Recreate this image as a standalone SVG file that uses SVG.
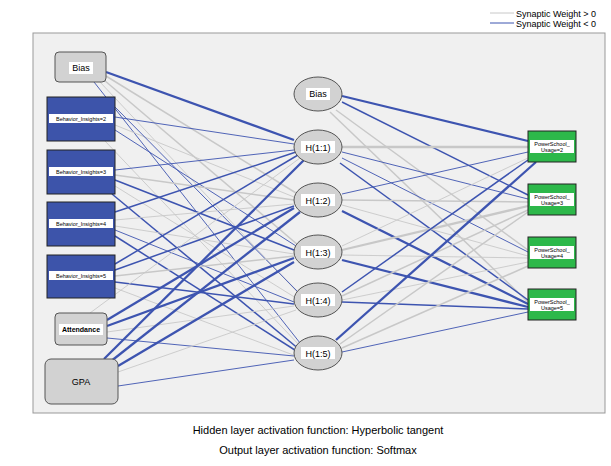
<svg xmlns="http://www.w3.org/2000/svg" width="611" height="466" viewBox="0 0 611 466">
<style>
text{font-family:"Liberation Sans",Arial,sans-serif;fill:#000}
.p{stroke:#c8c8c8;fill:none}
.n{stroke:#3d54b0;fill:none}
.t1{stroke-width:0.9}.t2{stroke-width:1.5}.t3{stroke-width:2.3}
.g{fill:#d2d2d2;stroke:#555;stroke-width:1}
.b{fill:#3d54aa;stroke:#222;stroke-width:1}
.o{fill:#2db84a;stroke:#222;stroke-width:1}
.lb{fill:#fff}
</style>
<rect width="611" height="466" fill="#fff"/>
<rect x="33" y="33" width="572" height="380" fill="#f0f0f0" stroke="#999"/>
<g id="legend">
<line x1="490" y1="13" x2="514" y2="13" stroke="#c8c8c8"/>
<line x1="490" y1="23" x2="514" y2="23" stroke="#3d54b0"/>
<text x="516" y="17" font-size="9">Synaptic Weight &gt; 0</text>
<text x="516" y="27" font-size="9">Synaptic Weight &lt; 0</text>
</g>
<g id="connectors">
<line class="n t3" x1="106" y1="72" x2="294" y2="140"/>
<line class="p t2" x1="106" y1="76" x2="296" y2="193"/>
<line class="p t2" x1="104" y1="80" x2="298" y2="245"/>
<line class="p t1" x1="100" y1="82" x2="300" y2="295"/>
<line class="n t1" x1="94" y1="82" x2="304" y2="348"/>
<line class="n t1" x1="115" y1="117" x2="294" y2="144"/>
<line class="p t1" x1="115" y1="125" x2="294" y2="197"/>
<line class="n t1" x1="115" y1="130" x2="296" y2="246"/>
<line class="n t1" x1="115" y1="107" x2="300" y2="294"/>
<line class="p t1" x1="105" y1="141" x2="302" y2="348"/>
<line class="n t1" x1="115" y1="170" x2="294" y2="150"/>
<line class="p t2" x1="115" y1="175" x2="294" y2="200"/>
<line class="n t2" x1="115" y1="180" x2="294" y2="250"/>
<line class="p t1" x1="115" y1="186" x2="296" y2="298"/>
<line class="n t2" x1="112" y1="194" x2="300" y2="350"/>
<line class="n t2" x1="115" y1="212" x2="296" y2="152"/>
<line class="p t1" x1="115" y1="220" x2="294" y2="204"/>
<line class="p t1" x1="115" y1="226" x2="294" y2="254"/>
<line class="n t1" x1="115" y1="230" x2="294" y2="302"/>
<line class="n t2" x1="115" y1="236" x2="298" y2="352"/>
<line class="n t2" x1="115" y1="264" x2="298" y2="155"/>
<line class="n t2" x1="115" y1="270" x2="294" y2="206"/>
<line class="p t2" x1="115" y1="276" x2="294" y2="256"/>
<line class="n t2" x1="115" y1="282" x2="294" y2="304"/>
<line class="p t1" x1="115" y1="288" x2="296" y2="356"/>
<line class="p t1" x1="90" y1="313" x2="300" y2="158"/>
<line class="n t3" x1="107" y1="320" x2="294" y2="208"/>
<line class="n t3" x1="107" y1="326" x2="294" y2="258"/>
<line class="p t1" x1="107" y1="332" x2="294" y2="306"/>
<line class="n t1" x1="107" y1="338" x2="294" y2="356"/>
<line class="n t3" x1="104" y1="359" x2="304" y2="160"/>
<line class="n t3" x1="110" y1="362" x2="300" y2="212"/>
<line class="n t3" x1="118" y1="366" x2="294" y2="262"/>
<line class="p t1" x1="118" y1="372" x2="296" y2="310"/>
<line class="n t1" x1="118" y1="386" x2="294" y2="360"/>
<line class="n t3" x1="342" y1="96" x2="528" y2="141"/>
<line class="n t2" x1="342" y1="102" x2="528" y2="195"/>
<line class="p t2" x1="336" y1="110" x2="528" y2="250"/>
<line class="p t2" x1="330" y1="112" x2="528" y2="302"/>
<line class="p t3" x1="342" y1="147" x2="528" y2="147"/>
<line class="n t1" x1="342" y1="152" x2="528" y2="199"/>
<line class="n t1" x1="342" y1="158" x2="528" y2="252"/>
<line class="n t2" x1="340" y1="163" x2="528" y2="300"/>
<line class="n t1" x1="342" y1="194" x2="528" y2="152"/>
<line class="p t2" x1="342" y1="200" x2="528" y2="202"/>
<line class="p t1" x1="342" y1="205" x2="528" y2="256"/>
<line class="n t3" x1="342" y1="211" x2="528" y2="304"/>
<line class="p t1" x1="342" y1="246" x2="528" y2="158"/>
<line class="p t3" x1="342" y1="250" x2="528" y2="206"/>
<line class="p t1" x1="342" y1="255" x2="528" y2="258"/>
<line class="n t3" x1="342" y1="260" x2="528" y2="307"/>
<line class="n t2" x1="342" y1="292" x2="528" y2="160"/>
<line class="p t2" x1="342" y1="296" x2="528" y2="210"/>
<line class="p t1" x1="342" y1="300" x2="528" y2="262"/>
<line class="n t2" x1="342" y1="302" x2="528" y2="309"/>
<line class="n t3" x1="336" y1="340" x2="536" y2="162"/>
<line class="p t2" x1="340" y1="344" x2="528" y2="212"/>
<line class="p t2" x1="342" y1="348" x2="528" y2="266"/>
<line class="n t1" x1="342" y1="352" x2="528" y2="312"/>
</g>
<g id="in-bias"><rect class="g" x="55" y="52" width="51" height="30" rx="4"/><rect class="lb" x="69" y="62" width="24" height="12"/><text x="81" y="71" font-size="9" text-anchor="middle">Bias</text></g>
<g id="bi2"><rect class="b" x="47" y="97" width="68" height="44"/><rect class="lb" x="49" y="114" width="64" height="9"/><text x="81" y="121" font-size="5.5" text-anchor="middle">Behavior_Insights=2</text></g>
<g id="bi3"><rect class="b" x="47" y="150" width="68" height="44"/><rect class="lb" x="49" y="167" width="64" height="9"/><text x="81" y="174" font-size="5.5" text-anchor="middle">Behavior_Insights=3</text></g>
<g id="bi4"><rect class="b" x="47" y="202" width="68" height="44"/><rect class="lb" x="49" y="219" width="64" height="9"/><text x="81" y="226" font-size="5.5" text-anchor="middle">Behavior_Insights=4</text></g>
<g id="bi5"><rect class="b" x="47" y="255" width="68" height="43"/><rect class="lb" x="49" y="271" width="64" height="9"/><text x="81" y="278" font-size="5.5" text-anchor="middle">Behavior_Insights=5</text></g>
<g id="attendance"><rect class="g" x="55" y="313" width="52" height="32" rx="4"/><rect class="lb" x="59" y="324" width="44" height="11"/><text x="81" y="332" font-size="7" font-weight="bold" text-anchor="middle">Attendance</text></g>
<g id="gpa"><rect class="g" x="45" y="359" width="73" height="45" rx="6"/><text x="81" y="385" font-size="9" text-anchor="middle">GPA</text></g>
<g id="h-bias"><ellipse class="g" cx="318" cy="94" rx="24" ry="17"/><rect class="lb" x="306" y="88" width="24" height="12"/><text x="318" y="97" font-size="9" text-anchor="middle">Bias</text></g>
<g id="h1"><ellipse class="g" cx="318" cy="147" rx="24" ry="17"/><rect class="lb" x="301" y="141" width="34" height="12"/><text x="318" y="150.5" font-size="9" text-anchor="middle">H(1:1)</text></g>
<g id="h2"><ellipse class="g" cx="318" cy="200" rx="24" ry="17"/><rect class="lb" x="301" y="194" width="34" height="12"/><text x="318" y="203.5" font-size="9" text-anchor="middle">H(1:2)</text></g>
<g id="h3"><ellipse class="g" cx="318" cy="252" rx="24" ry="17"/><rect class="lb" x="301" y="246" width="34" height="12"/><text x="318" y="255.5" font-size="9" text-anchor="middle">H(1:3)</text></g>
<g id="h4"><ellipse class="g" cx="318" cy="300" rx="24" ry="17"/><rect class="lb" x="301" y="294" width="34" height="12"/><text x="318" y="303.5" font-size="9" text-anchor="middle">H(1:4)</text></g>
<g id="h5"><ellipse class="g" cx="318" cy="353" rx="24" ry="17"/><rect class="lb" x="301" y="347" width="34" height="12"/><text x="318" y="356.5" font-size="9" text-anchor="middle">H(1:5)</text></g>
<g id="o2"><rect class="o" x="528" y="131" width="48" height="31"/><rect class="lb" x="530" y="140" width="44" height="13"/><text x="552" y="146" font-size="5.5" text-anchor="middle">PowerSchool_</text><text x="552" y="152" font-size="5.5" text-anchor="middle">Usage=2</text></g>
<g id="o3"><rect class="o" x="528" y="184" width="48" height="31"/><rect class="lb" x="530" y="193" width="44" height="13"/><text x="552" y="199" font-size="5.5" text-anchor="middle">PowerSchool_</text><text x="552" y="205" font-size="5.5" text-anchor="middle">Usage=3</text></g>
<g id="o4"><rect class="o" x="528" y="237" width="48" height="31"/><rect class="lb" x="530" y="246" width="44" height="13"/><text x="552" y="252" font-size="5.5" text-anchor="middle">PowerSchool_</text><text x="552" y="258" font-size="5.5" text-anchor="middle">Usage=4</text></g>
<g id="o5"><rect class="o" x="528" y="289" width="48" height="31"/><rect class="lb" x="530" y="298" width="44" height="13"/><text x="552" y="304" font-size="5.5" text-anchor="middle">PowerSchool_</text><text x="552" y="310" font-size="5.5" text-anchor="middle">Usage=5</text></g>
<text x="318" y="434" font-size="11" text-anchor="middle">Hidden layer activation function: Hyperbolic tangent</text>
<text x="318" y="454" font-size="11" text-anchor="middle">Output layer activation function: Softmax</text>
</svg>
